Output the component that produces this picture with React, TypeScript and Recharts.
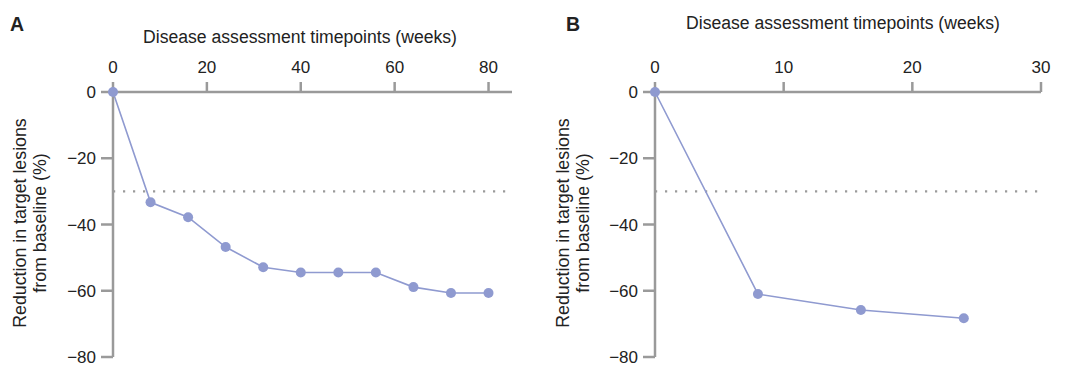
import React from 'react';
import { LineChart, Line, XAxis, YAxis, ReferenceLine } from 'recharts';

// Panel A: weekly assessments out to 80 weeks
const weeksA = [0, 8, 16, 24, 32, 40, 48, 56, 64, 72, 80];
const reductionA = [0, -33.3, -37.8, -46.8, -52.9, -54.5, -54.5, -54.5, -58.9, -60.7, -60.7];
const xTicksA = [0, 20, 40, 60, 80];

// Panel B: shorter follow-up
const weeksB = [0, 8, 16, 24];
const reductionB = [0, -61, -65.8, -68.3];
const xTicksB = [0, 10, 20, 30];

const yTicks = [0, -20, -40, -60, -80];
const threshold = -30;

const FONT = '"Liberation Sans", Arial, Helvetica, sans-serif';
const AXIS = '#9a9a9a';
const SERIES = '#8f9ad0';
const TEXT = '#222';

const minus = (v: number) => String(v).replace('-', '\u2212');

interface PanelProps {
  left: number;
  letter: string;
  letterX: number;
  weeks: number[];
  values: number[];
  xTicks: number[];
  xMax: number;
  marginLeft: number;
  marginRight: number;
  titleX: number;
  titleTop: number;
  yLabelX: number;
}

const Panel: React.FC<PanelProps> = ({
  left, letter, letterX, weeks, values, xTicks, xMax, marginLeft, marginRight, titleX, titleTop, yLabelX,
}) => {
  const data = weeks.map((w, i) => ({ week: w, value: values[i] }));
  return (
    <div style={{ position: 'absolute', left, top: 0, width: 540, height: 378 }}>
      <div style={{ position: 'absolute', left: letterX, top: 13, fontSize: 19.5, fontWeight: 'bold', color: TEXT }}>
        {letter}
      </div>
      <div style={{ position: 'absolute', left: titleX - 180, top: titleTop, width: 360, textAlign: 'center', fontSize: 17.6, color: TEXT, whiteSpace: 'nowrap' }}>
        Disease assessment timepoints (weeks)
      </div>
      <div
        style={{
          position: 'absolute', left: yLabelX - 130, top: 203, width: 260, height: 40,
          transform: 'rotate(-90deg)', textAlign: 'center', fontSize: 17.8, lineHeight: '20px', color: TEXT,
          whiteSpace: 'nowrap',
        }}
      >
        Reduction in target lesions<br />from baseline (%)
      </div>
      <LineChart
        width={540}
        height={378}
        data={data}
        margin={{ top: 62, right: marginRight, bottom: 21, left: marginLeft }}
        style={{ position: 'absolute', left: 0, top: 0 }}
      >
        <XAxis
          dataKey="week"
          type="number"
          orientation="top"
          domain={[0, xMax]}
          ticks={xTicks}
          height={30}
          tickSize={10}
          tickMargin={9}
          stroke={AXIS}
          strokeWidth={2.5}
          tick={{ fill: TEXT, fontSize: 17, fontFamily: FONT }}
        />
        <YAxis
          type="number"
          domain={[-80, 0]}
          ticks={yTicks}
          width={60}
          tickSize={12}
          tickMargin={5}
          stroke={AXIS}
          strokeWidth={2.5}
          tickFormatter={minus}
          tick={{ fill: TEXT, fontSize: 17, fontFamily: FONT }}
        />
        <ReferenceLine y={threshold} stroke={AXIS} strokeWidth={2.2} strokeDasharray="2.2 7.8" />
        <Line
          dataKey="value"
          stroke={SERIES}
          strokeWidth={1.6}
          dot={{ r: 5, fill: SERIES, stroke: SERIES, strokeWidth: 0 }}
          isAnimationActive={false}
        />
      </LineChart>
    </div>
  );
};

export default function App() {
  return (
    <div style={{ position: 'absolute', left: 0, top: 0, width: 1080, height: 378, background: '#fff', fontFamily: FONT }}>
      <Panel
        left={0}
        letter="A"
        letterX={10}
        weeks={weeksA}
        values={reductionA}
        xTicks={xTicksA}
        xMax={85}
        marginLeft={53}
        marginRight={28}
        titleX={300}
        titleTop={27}
        yLabelX={30}
      />
      <Panel
        left={540}
        letter="B"
        letterX={26}
        weeks={weeksB}
        values={reductionB}
        xTicks={xTicksB}
        xMax={30}
        marginLeft={55}
        marginRight={39}
        titleX={303}
        titleTop={13}
        yLabelX={33}
      />
    </div>
  );
}
